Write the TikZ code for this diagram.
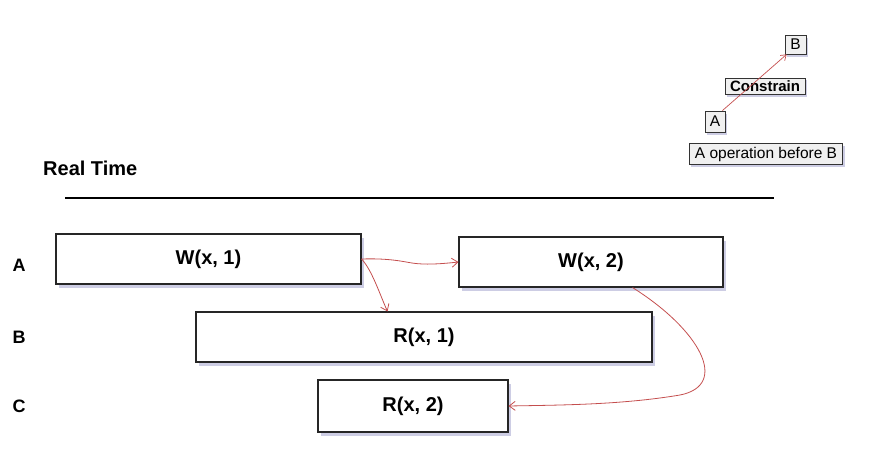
\documentclass[tikz,border=0pt]{standalone}
\usepackage{fontspec}
\setmainfont{Liberation Sans}
\usetikzlibrary{arrows.meta,shadows}
\definecolor{arrred}{RGB}{196,78,78}
\definecolor{shadowc}{RGB}{205,205,228}
\begin{document}
\begin{tikzpicture}[x=1pt,y=-1pt,
  opbox/.style={draw=black!85, line width=1.1pt, fill=white, minimum height=50pt, font=\bfseries\fontsize{20}{24}\selectfont,
    drop shadow={shadow xshift=3pt, shadow yshift=-3.5pt, fill=shadowc, opacity=1}},
  legbox/.style={draw=black!80, line width=0.8pt, fill=gray!12, inner sep=3pt, font=\fontsize{15.5}{18}\selectfont,
    drop shadow={shadow xshift=2pt, shadow yshift=-2.5pt, fill=shadowc, opacity=1}},
  rowlbl/.style={font=\bfseries\fontsize{18}{22}\selectfont},
  conn/.style={draw=arrred, line width=0.8pt, -{Straight Barb[length=6pt,width=9pt]}}
]
\useasboundingbox (0,0) rectangle (886,475);
% real time
\node[rowlbl, font=\bfseries\fontsize{20}{24}\selectfont, anchor=west, inner sep=0pt] (rt) at (43,168) {Real Time};
\coordinate (l1) at (65,198);
\coordinate (l2) at (774,198);
\draw[line width=1.1pt] (l1) -- (l2);
% row labels
\node[rowlbl] (la) at (19,265) {A};
\node[rowlbl] (lb) at (19,337) {B};
\node[rowlbl] (lc) at (19,406) {C};
% operations
\node[opbox, minimum width=305pt] (w1) at (208.5,259) {W(x, 1)};
\node[opbox, minimum width=264pt] (w2) at (591,262) {W(x, 2)};
\node[opbox, minimum width=456pt] (r1) at (424,337) {R(x, 1)};
\node[opbox, minimum width=190pt, minimum height=52pt] (r2) at (413,406) {R(x, 2)};
% connectors
\draw[conn] (w1.east) .. controls (390,258) and (405,262) .. (412,263) .. controls (425,265) and (440,264) .. (w2.west);
\draw[conn] (w1.east) .. controls (372,270) and (380,295) .. ([xshift=-265pt]r1.north east);
\draw[conn] ([xshift=-91pt]w2.south east) .. controls (700,330) and (730,385) .. (680,395) .. controls (620,405) and (560,405) .. (r2.east);
% legend
\node[legbox, minimum width=21pt, minimum height=19pt, inner sep=1pt] (lgb) at (795.5,44.5) {B};
\node[legbox, font=\bfseries\fontsize{15}{18}\selectfont, inner xsep=5pt, inner ysep=2.5pt] (lgc) at (765,86) {Constrain};
\node[legbox, minimum width=20pt, minimum height=21pt, inner sep=1pt] (lga) at (715,121.5) {A};
\node[legbox, inner xsep=5.5pt, inner ysep=3pt] (lgt) at (766,154) {A operation before B};
\draw[conn, line width=0.7pt, -{Straight Barb[length=5pt,width=7pt]}] ([xshift=-3pt]lga.north east) -- ([xshift=2pt]lgb.south west);
\end{tikzpicture}
\end{document}
